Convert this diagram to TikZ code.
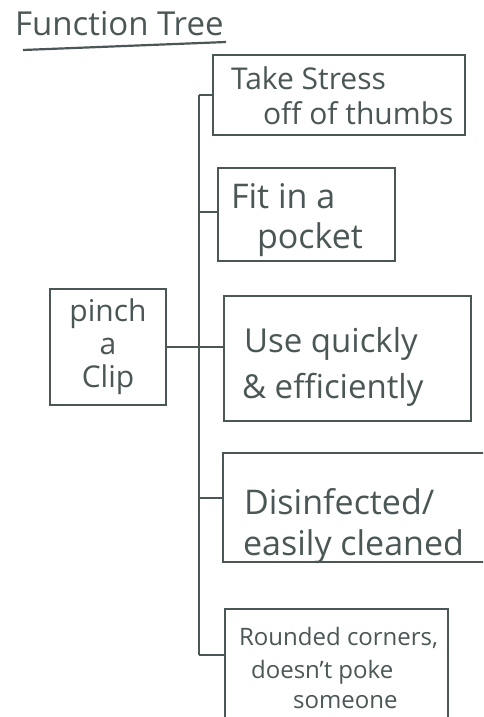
\documentclass[tikz,border=0pt]{standalone}
\usepackage{fontspec}
\setmainfont{Open Sans}
\definecolor{ink}{HTML}{4B5756}
\begin{document}
\begin{tikzpicture}[x=1pt,y=-1pt,
  line width=2.2pt, draw=ink,
  box/.style={draw=ink, rectangle, inner sep=0pt, text=ink, align=center},
  lbl/.style={text=ink, inner sep=0pt, anchor=base west},
  conn/.style={draw=ink, line width=2.2pt}]
\useasboundingbox[fill=white] (0,0) rectangle (483,717);
\begin{scope}
\clip (0,0) rectangle (483,717);
% title
\node[lbl, font=\fontsize{33}{36}\selectfont] (title) at (14,36) {Function Tree};
\draw[conn] (23,50) -- (226,42);
% boxes
\node[box, minimum width=252pt, minimum height=80pt] (b1) at (339,95) {};
\node[lbl, font=\fontsize{30}{34}\selectfont] (b1a) at (230,89) {Take Stress};
\node[lbl, font=\fontsize{30}{34}\selectfont] (b1b) at (262,124) {off of thumbs};
\node[box, minimum width=177pt, minimum height=93pt] (b2) at (306.5,214.5) {};
\node[lbl, font=\fontsize{34}{38}\selectfont] (b2a) at (230,208) {Fit in a};
\node[lbl, font=\fontsize{34}{38}\selectfont] (b2b) at (256,248) {pocket};
\node[box, minimum width=116pt, minimum height=116pt, font=\fontsize{30}{33}\selectfont] (root) at (108,347)
  {pinch\\a\\Clip};
\node[box, minimum width=247pt, minimum height=125pt] (b3) at (347.5,358.5) {};
\node[lbl, font=\fontsize{33}{38}\selectfont] (b3a) at (243,352) {Use quickly};
\node[lbl, font=\fontsize{33}{38}\selectfont] (b3b) at (241,398) {\& efficiently};
\node[box, minimum width=263pt, minimum height=109pt] (b4) at (354.5,507.5) {};
\node[lbl, font=\fontsize{34}{38}\selectfont] (b4a) at (243,514) {Disinfected/};
\node[lbl, font=\fontsize{34}{38}\selectfont] (b4b) at (242,555) {easily cleaned};
\node[box, minimum width=223pt, minimum height=118pt] (b5) at (336.5,668) {};
\node[lbl, font=\fontsize{24}{28}\selectfont] (b5a) at (238,645) {Rounded corners,};
\node[lbl, font=\fontsize{24}{28}\selectfont] (b5b) at (250,678) {doesn't poke};
\node[lbl, font=\fontsize{24}{28}\selectfont] (b5c) at (292,708) {someone};
% connectors
\coordinate (t1) at (199,95);
\coordinate (t2) at (199,212);
\coordinate (t4) at (199,498);
\coordinate (t5) at (199,655);
\draw[conn] (t1) -- (t5);
\draw[conn] (t1) -- (b1.west);
\draw[conn] (t2) -- (t2 -| b2.west);
\draw[conn] (root.east) -- (root.east -| b3.west);
\draw[conn] (t4) -- (t4 -| b4.west);
\draw[conn] (t5) -- (t5 -| b5.west);
\end{scope}
\end{tikzpicture}
\end{document}
